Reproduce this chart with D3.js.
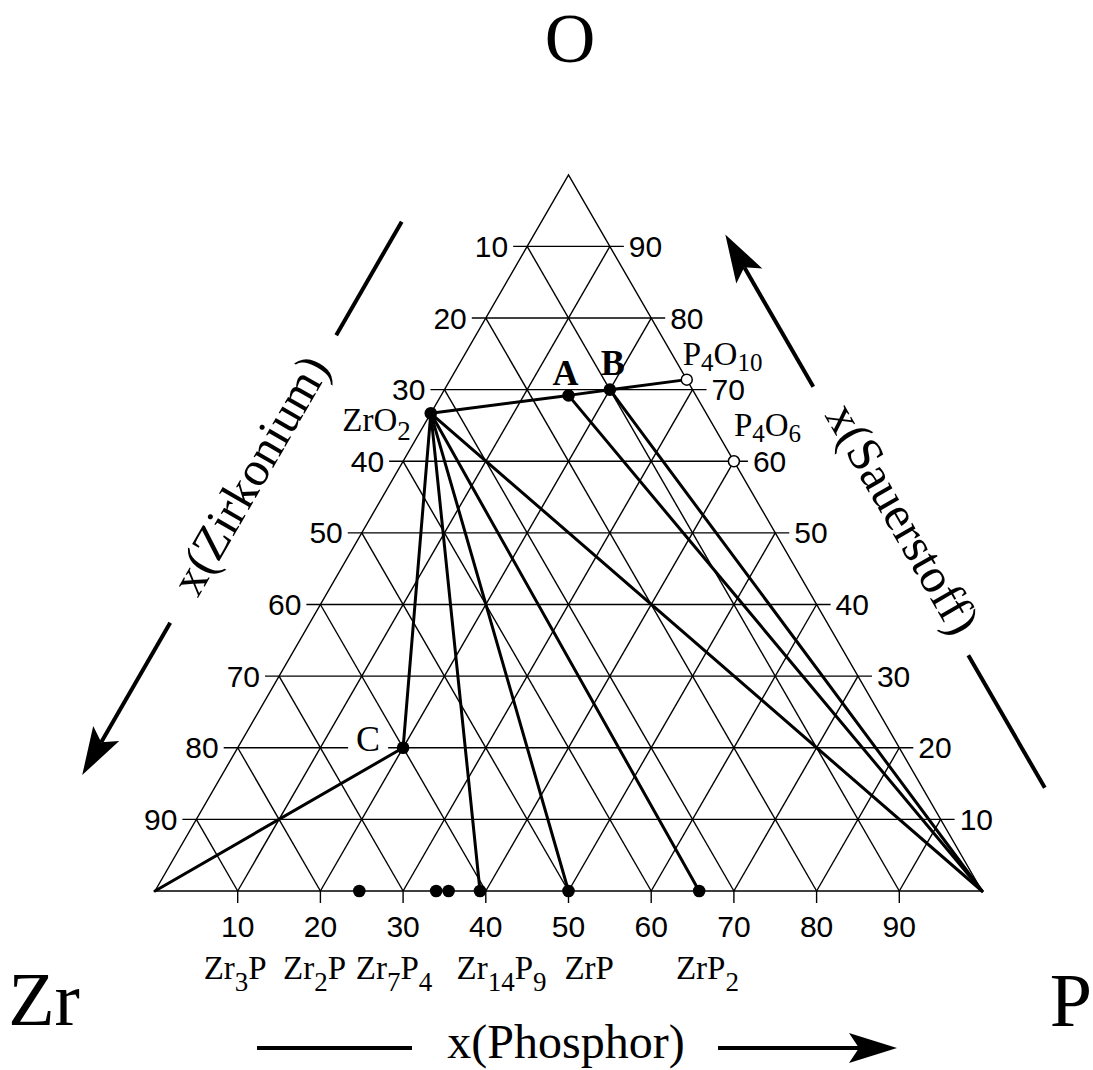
<!DOCTYPE html>
<html>
<head>
<meta charset="utf-8">
<script src="https://cdn.jsdelivr.net/npm/d3@7"></script>
<style>
  body { margin: 0; background: #fff; }
  svg { display: block; }
</style>
</head>
<body>
<svg id="chart" width="1093" height="1070"></svg>
<script>
// ---- Data: Zr–P–O ternary system (atom %) ----
const ticks = [10, 20, 30, 40, 50, 60, 70, 80, 90];

// Binary Zr–P phases on the base line, x(P) in %
const binaryNames = ["Zr3P", "Zr2P", "Zr7P4", "Zr14P9", "ZrP", "ZrP2"];
const binaryP = [24.7, 34.0, 35.5, 39.3, 50.0, 65.8];

// Oxides and ternary phases (filled points): x(Zr), x(P), x(O) in %
const phaseNames = ["ZrO2", "A", "B", "C"];
const phaseZr = [33.3, 15.4, 10.0, 60.0];
const phaseP = [0.0, 15.4, 20.0, 20.0];
const phaseO = [66.7, 69.2, 70.0, 20.0];

// Phosphorus oxides (open points): x(P), x(O) in %
const oxideNames = ["P4O10", "P4O6"];
const oxideP = [28.6, 40.0];
const oxideO = [71.4, 60.0];

// Tie lines between phases
const tieLines = [
  ["Zr", "C"], ["C", "ZrO2"],
  ["ZrO2", "A"], ["A", "B"], ["B", "P4O10"],
  ["ZrO2", "Zr14P9"], ["ZrO2", "ZrP"], ["ZrO2", "ZrP2"], ["ZrO2", "P"],
  ["A", "P"], ["B", "P"]
];

// ---- Layout ----
const X0 = 155, X1 = 982, YB = 891;
const side = X1 - X0, H = side * Math.sqrt(3) / 2;
const TICK = 14;
const xs = d3.scaleLinear().domain([0, 100]).range([X0, X1]);
const ys = d3.scaleLinear().domain([0, 100]).range([YB, YB - H]);
const pos = (p, o) => [xs(p + o / 2), ys(o)];
const line = d3.line();

const SERIF = "'Liberation Serif', 'Times New Roman', serif";
const SANS = "'Liberation Sans', Arial, sans-serif";

const svg = d3.select("#chart");

// Coordinates of every named composition
const coord = new Map();
coord.set("Zr", pos(0, 0));
coord.set("P", pos(100, 0));
coord.set("O", pos(0, 100));
binaryNames.forEach((n, i) => coord.set(n, pos(binaryP[i], 0)));
phaseNames.forEach((n, i) => coord.set(n, pos(phaseP[i], phaseO[i])));
oxideNames.forEach((n, i) => coord.set(n, pos(oxideP[i], oxideO[i])));

// ---- Grid ----
const gGrid = svg.append("g").attr("stroke", "#000").attr("stroke-width", 1.4).attr("fill", "none");
ticks.forEach(t => {
  const a = pos(0, t), b = pos(100 - t, t);               // constant x(O)
  gGrid.append("path").attr("d", line([[a[0] - TICK, a[1]], [b[0] + TICK, b[1]]]));
  gGrid.append("path").attr("d", line([pos(t, 0), pos(t, 100 - t)]));       // constant x(P)
  gGrid.append("path").attr("d", line([pos(100 - t, 0), pos(0, 100 - t)])); // constant x(Zr)
  gGrid.append("path").attr("d", line([[xs(t), YB], [xs(t), YB + 12]]));    // base tick
});
gGrid.append("path").attr("d", line([pos(0, 0), pos(100, 0), pos(0, 100)]) + "Z");

// ---- Tick labels ----
const gTick = svg.append("g").attr("font-family", SANS).attr("font-size", 30).attr("fill", "#000");
ticks.forEach(t => {
  const l = pos(0, 100 - t);   // left edge: x(Zr)
  gTick.append("text").attr("x", l[0] - TICK - 5).attr("y", l[1]).attr("dy", "0.35em")
    .attr("text-anchor", "end").text(t);
  const r = pos(100 - t, t);   // right edge: x(O)
  gTick.append("text").attr("x", r[0] + TICK + 5).attr("y", r[1]).attr("dy", "0.35em")
    .attr("text-anchor", "start").text(t);
  gTick.append("text").attr("x", xs(t)).attr("y", YB + 46)   // base: x(P)
    .attr("text-anchor", "middle").text(t);
});

// ---- Formula text with subscripts ----
function chem(text, formula, size, subSize, drop) {
  const parts = formula.match(/[A-Za-z]+|\d+/g);
  let down = false;
  parts.forEach(p => {
    const isNum = /\d/.test(p);
    const ts = text.append("tspan").text(p).attr("font-size", isNum ? subSize : size);
    if (isNum && !down) { ts.attr("dy", drop); down = true; }
    else if (!isNum && down) { ts.attr("dy", -drop); down = false; }
  });
  return text;
}

const gLab = svg.append("g").attr("font-family", SERIF).attr("fill", "#000");

// Labels of the base-line phases
const binaryLabelX = [9.7, 19.3, 28.9, 41.9, 52.5, 66.8];
binaryNames.forEach((n, i) => {
  const t = gLab.append("text").attr("x", xs(binaryLabelX[i])).attr("y", YB + 88)
    .attr("text-anchor", "middle");
  chem(t, n, 33, 27, 12);
});

// Labels of points inside / on the edges
const pointLabel = {
  ZrO2:  { dx: -20, dy: 18, anchor: "end", size: 33, sub: 27, drop: 9 },
  A:     { dx: -3, dy: -10, anchor: "middle", size: 36, bold: true },
  B:     { dx: 3, dy: -15, anchor: "middle", size: 36, bold: true },
  C:     { dx: -35, dy: 3, anchor: "middle", size: 36, bg: true },
  P4O10: { dx: -4, dy: -15, anchor: "start", size: 33, sub: 25, drop: 6 },
  P4O6:  { dx: 0, dy: -25, anchor: "start", size: 33, sub: 25, drop: 6 }
};
Object.keys(pointLabel).forEach(n => {
  const s = pointLabel[n], c = coord.get(n);
  const t = gLab.append("text").attr("x", c[0] + s.dx).attr("y", c[1] + s.dy)
    .attr("text-anchor", s.anchor).attr("font-weight", s.bold ? "bold" : "normal");
  if (s.sub) chem(t, n, s.size, s.sub, s.drop);
  else t.attr("font-size", s.size).text(n);
  if (s.bg) {
    const bb = t.node().getBBox();
    gLab.insert("rect", () => t.node())
      .attr("x", bb.x - 8).attr("y", bb.y + 4).attr("width", bb.width + 16).attr("height", bb.height - 8)
      .attr("fill", "#fff");
  }
});

// ---- Tie lines ----
const gTie = svg.append("g").attr("stroke", "#000").attr("stroke-width", 3).attr("fill", "none")
  .attr("stroke-linecap", "round");
tieLines.forEach(([a, b]) => gTie.append("path").attr("d", line([coord.get(a), coord.get(b)])));

// ---- Points ----
const gPts = svg.append("g");
binaryNames.concat(phaseNames).forEach(n => {
  const c = coord.get(n);
  gPts.append("circle").attr("cx", c[0]).attr("cy", c[1]).attr("r", 6.3).attr("fill", "#000");
});
oxideNames.forEach(n => {
  const c = coord.get(n);
  gPts.append("circle").attr("cx", c[0]).attr("cy", c[1]).attr("r", 5.5)
    .attr("fill", "#fff").attr("stroke", "#000").attr("stroke-width", 1.5);
});

// ---- Corner element symbols ----
const gCorner = svg.append("g").attr("font-family", SERIF).attr("fill", "#000")
  .attr("text-anchor", "middle");
gCorner.append("text").attr("x", 570).attr("y", 62).attr("font-size", 70).text("O");
gCorner.append("text").attr("x", 44).attr("y", 1025).attr("font-size", 76).text("Zr");
gCorner.append("text").attr("x", 1071).attr("y", 1026).attr("font-size", 76).text("P");

// ---- Axis titles with direction arrows ----
const gAx = svg.append("g");
function arrow(x1, y1, x2, y2) {
  const L = Math.hypot(x2 - x1, y2 - y1), ux = (x2 - x1) / L, uy = (y2 - y1) / L;
  const nx = -uy, ny = ux, len = 48, hw = 15, notch = 10;
  const bx = x2 - ux * len, by = y2 - uy * len;
  const mx = x2 - ux * (len - notch), my = y2 - uy * (len - notch);
  gAx.append("path").attr("d", line([[x1, y1], [mx, my]]))
    .attr("stroke", "#000").attr("stroke-width", 4).attr("fill", "none");
  gAx.append("path")
    .attr("d", `M${x2},${y2}L${bx + nx * hw},${by + ny * hw}L${mx},${my}L${bx - nx * hw},${by - ny * hw}Z`)
    .attr("fill", "#000");
}
function bar(x1, y1, x2, y2) {
  gAx.append("path").attr("d", line([[x1, y1], [x2, y2]]))
    .attr("stroke", "#000").attr("stroke-width", 4).attr("fill", "none");
}
const along = (o, u, n, a, b) => [o[0] + u[0] * a + n[0] * b, o[1] + u[1] * a + n[1] * b];
const s3 = Math.sqrt(3) / 2;

// left side: x(Zirkonium), arrow toward Zr
const oL = coord.get("Zr"), uL = [0.5, -s3], nL = [-s3, -0.5];
bar(...along(oL, uL, nL, 572, 121), ...along(oL, uL, nL, 703, 121));
arrow(...along(oL, uL, nL, 240, 121), ...along(oL, uL, nL, 64, 121));
const cL = along(oL, uL, nL, 408, 124);
gAx.append("text").attr("transform", `translate(${cL[0]},${cL[1]}) rotate(-60)`)
  .attr("text-anchor", "middle").attr("dy", "0.3em")
  .attr("font-family", SERIF).attr("font-size", 49).text("x(Zirkonium)");

// right side: x(Sauerstoff), arrow toward O
const oR = coord.get("P"), uR = [-0.5, -s3], nR = [s3, -0.5];
bar(...along(oR, uR, nR, 58, 106), ...along(oR, uR, nR, 211, 106));
arrow(...along(oR, uR, nR, 521, 106), ...along(oR, uR, nR, 697, 106));
const cR = along(oR, uR, nR, 362, 116);
gAx.append("text").attr("transform", `translate(${cR[0]},${cR[1]}) rotate(60)`)
  .attr("text-anchor", "middle").attr("dy", "0.3em")
  .attr("font-family", SERIF).attr("font-size", 49).text("x(Sauerstoff)");

// base: x(Phosphor), arrow toward P
bar(257, 1048, 412, 1048);
arrow(718, 1048, 897, 1048);
gAx.append("text").attr("x", 566).attr("y", 1058)
  .attr("text-anchor", "middle").attr("font-family", SERIF).attr("font-size", 48).text("x(Phosphor)");
</script>
</body>
</html>
